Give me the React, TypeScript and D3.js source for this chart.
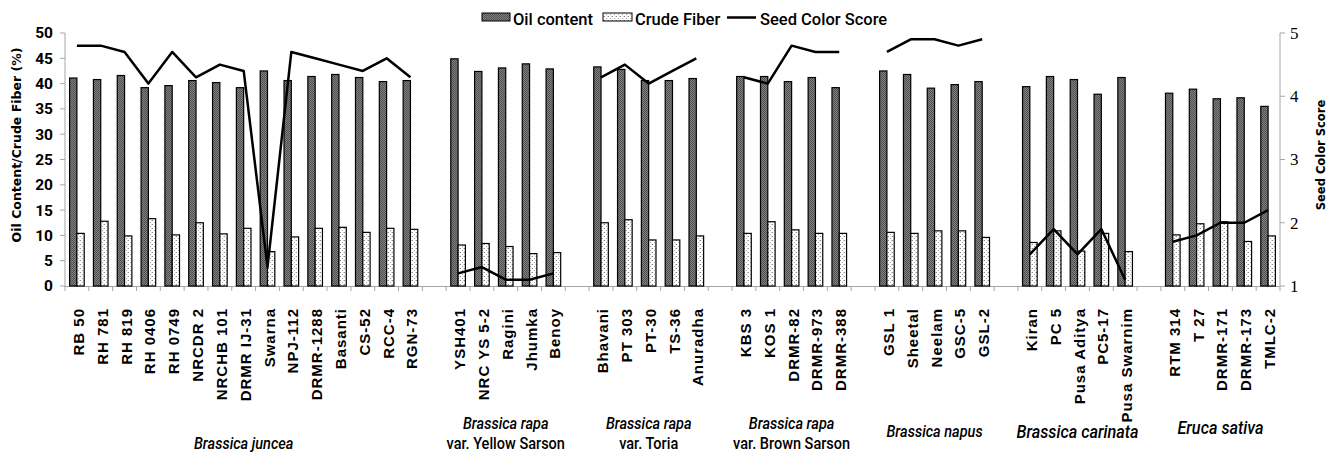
import React from "react";
import * as d3 from "d3";

const categories: string[] = [
  "RB 50", "RH 781", "RH 819", "RH 0406", "RH 0749", "NRCDR 2", "NRCHB 101", "DRMR IJ-31",
  "Swarna", "NPJ-112", "DRMR-1288", "Basanti", "CS-52", "RCC-4", "RGN-73", "",
  "YSH401", "NRC YS 5-2", "Ragini", "Jhumka", "Benoy", "",
  "Bhavani", "PT 303", "PT-30", "TS-36", "Anuradha", "",
  "KBS 3", "KOS 1", "DRMR-82", "DRMR-973", "DRMR-388", "",
  "GSL 1", "Sheetal", "Neelam", "GSC-5", "GSL-2", "",
  "Kiran", "PC 5", "Pusa Aditya", "PC5-17", "Pusa Swarnim", "",
  "RTM 314", "T 27", "DRMR-171", "DRMR-173", "TMLC-2",
];

const oilContent: (number | null)[] = [
  41.1, 40.8, 41.6, 39.2, 39.6, 40.6, 40.2, 39.2, 42.5, 40.6, 41.4, 41.8, 41.2, 40.4, 40.6, null,
  44.9, 42.4, 43.1, 43.9, 42.9, null,
  43.3, 42.8, 40.6, 40.6, 41.0, null,
  41.4, 41.4, 40.4, 41.2, 39.2, null,
  42.5, 41.8, 39.1, 39.8, 40.4, null,
  39.4, 41.4, 40.8, 37.9, 41.2, null,
  38.1, 38.9, 37.0, 37.2, 35.5,
];

const crudeFiber: (number | null)[] = [
  10.4, 12.8, 9.9, 13.3, 10.1, 12.5, 10.3, 11.4, 6.8, 9.7, 11.4, 11.6, 10.6, 11.4, 11.2, null,
  8.1, 8.4, 7.8, 6.4, 6.6, null,
  12.5, 13.1, 9.1, 9.1, 9.9, null,
  10.4, 12.7, 11.1, 10.4, 10.4, null,
  10.6, 10.4, 10.9, 10.9, 9.6, null,
  8.6, 10.9, 6.9, 10.4, 6.8, null,
  10.1, 12.3, 12.7, 8.8, 9.9,
];

const seedColorScore: (number | null)[] = [
  4.8, 4.8, 4.7, 4.2, 4.7, 4.3, 4.5, 4.4, 1.3, 4.7, 4.6, 4.5, 4.4, 4.6, 4.3, null,
  1.2, 1.3, 1.1, 1.1, 1.2, null,
  4.3, 4.5, 4.2, 4.4, 4.6, null,
  4.3, 4.2, 4.8, 4.7, 4.7, null,
  4.7, 4.9, 4.9, 4.8, 4.9, null,
  1.5, 1.9, 1.5, 1.9, 1.1, null,
  1.7, 1.8, 2.0, 2.0, 2.2,
];

const groupTitles: string[][] = [
  ["Brassica juncea"],
  ["Brassica rapa", "var. Yellow Sarson"],
  ["Brassica rapa", "var. Toria"],
  ["Brassica rapa", "var. Brown Sarson"],
  ["Brassica napus"],
  ["Brassica carinata"],
  ["Eruca sativa"],
];

const leftTicks = [0, 5, 10, 15, 20, 25, 30, 35, 40, 45, 50];
const rightTicks = [1, 2, 3, 4, 5];
const seriesNames = ["Oil content", "Crude Fiber", "Seed Color Score"];

const W = 1328;
const H = 454;
const X0 = 65;
const X1 = 1280;
const YB = 286;
const YT = 33;

const NARROW = "'Liberation Sans Narrow', 'Arial Narrow', 'Roboto', sans-serif";

// group-label styling (per group index)
const groupStyle = [
  { size: 16.5, ys: [449] },
  { size: 16.5, ys: [429, 449] },
  { size: 16.5, ys: [429, 449] },
  { size: 16.5, ys: [429, 449] },
  { size: 16.5, ys: [437] },
  { size: 18.5, ys: [438] },
  { size: 18.5, ys: [434] },
];

export default function App() {
  const idx = d3.range(categories.length);
  const x = d3.scaleBand<number>().domain(idx).range([X0, X1]).paddingInner(0).paddingOuter(0);
  const sub = d3
    .scaleBand<string>()
    .domain(["oil", "fiber"])
    .range([0, x.bandwidth()])
    .paddingInner(0)
    .paddingOuter(0.63);
  const yL = d3.scaleLinear().domain([0, 50]).range([YB, YT]);
  const yR = d3.scaleLinear().domain([1, 5]).range([YB, YT]);

  const line = d3
    .line<number>()
    .defined((i) => seedColorScore[i] != null)
    .x((i) => (x(i) as number) + x.bandwidth() / 2)
    .y((i) => yR(seedColorScore[i] as number));

  // derive groups from blank separators
  const groups: { start: number; end: number }[] = [];
  let s = 0;
  categories.forEach((c, i) => {
    if (c === "") {
      groups.push({ start: s, end: i - 1 });
      s = i + 1;
    }
  });
  groups.push({ start: s, end: categories.length - 1 });

  return (
    <div style={{ position: "fixed", left: 0, top: 0 }}>
      <svg width={W} height={H} style={{ display: "block", background: "#fff" }}>
        <defs>
          <pattern id="oilPat" width="2" height="2" patternUnits="userSpaceOnUse">
            <rect width="2" height="2" fill="#808080" />
            <rect width="1" height="1" fill="#505050" />
            <rect x="1" y="1" width="1" height="1" fill="#505050" />
          </pattern>
          <pattern id="fibPat" width="4" height="4" patternUnits="userSpaceOnUse">
            <rect width="4" height="4" fill="#fff" />
            <rect x="0" y="0" width="1" height="1" fill="#8a8a8a" />
            <rect x="2" y="2" width="1" height="1" fill="#a5a5a5" />
            <rect x="3" y="0" width="1" height="1" fill="#d0d0d0" />
          </pattern>
        </defs>

        {/* axes lines */}
        <line x1={X0} x2={X0} y1={YT} y2={YB} stroke="#a6a6a6" strokeWidth={1} />
        <line x1={X1} x2={X1} y1={YT} y2={YB} stroke="#a6a6a6" strokeWidth={1} />
        <line x1={X0} x2={X1} y1={YB + 0.5} y2={YB + 0.5} stroke="#a6a6a6" strokeWidth={1} />

        {leftTicks.map((t) => (
          <g key={"l" + t}>
            <line x1={X0 - 5} x2={X0} y1={yL(t)} y2={yL(t)} stroke="#a6a6a6" />
            <text
              x={53}
              y={yL(t)}
              dy="0.35em"
              textAnchor="end"
              fontFamily={NARROW}
              fontWeight="bold"
              fontSize={15.5}
              fill="#000"
            >
              {t}
            </text>
          </g>
        ))}
        {rightTicks.map((t) => (
          <g key={"r" + t}>
            <line x1={X1} x2={X1 + 5} y1={yR(t)} y2={yR(t)} stroke="#a6a6a6" />
            <text
              x={1290}
              y={yR(t)}
              dy="0.35em"
              textAnchor="start"
              fontFamily="'Liberation Serif', serif"
              fontSize={17}
              fill="#000"
            >
              {t}
            </text>
          </g>
        ))}
        {d3.range(categories.length + 1).map((i) => {
          const xx = i < categories.length ? (x(i) as number) : X1;
          return <line key={"xt" + i} x1={xx} x2={xx} y1={YB} y2={YB + 5} stroke="#a6a6a6" />;
        })}

        {/* bars */}
        {idx.map((i) =>
          oilContent[i] == null ? null : (
            <rect
              key={"o" + i}
              x={(x(i) as number) + (sub("oil") as number)}
              y={yL(oilContent[i] as number)}
              width={sub.bandwidth()}
              height={YB - yL(oilContent[i] as number)}
              fill="url(#oilPat)"
              stroke="#000"
              strokeWidth={1.2}
            />
          )
        )}
        {idx.map((i) =>
          crudeFiber[i] == null ? null : (
            <rect
              key={"f" + i}
              x={(x(i) as number) + (sub("fiber") as number)}
              y={yL(crudeFiber[i] as number)}
              width={sub.bandwidth()}
              height={YB - yL(crudeFiber[i] as number)}
              fill="url(#fibPat)"
              stroke="#000"
              strokeWidth={1.2}
            />
          )
        )}

        {/* line */}
        <path d={line(idx) || ""} fill="none" stroke="#000" strokeWidth={2.5} strokeLinejoin="round" />

        {/* category labels */}
        {idx.map((i) =>
          categories[i] === "" ? null : (
            <text
              key={"c" + i}
              transform={`translate(${(x(i) as number) + x.bandwidth() / 2 + 7},308) rotate(-90)`}
              textAnchor="end"
              fontFamily="'Liberation Sans', Arial, sans-serif"
              fontWeight="bold"
              fontSize={15}
              letterSpacing={1}
              fill="#000"
            >
              {categories[i]}
            </text>
          )
        )}

        {/* group labels */}
        {groups.map((g, gi) => {
          const cx = ((x(g.start) as number) + (x(g.end) as number) + x.bandwidth()) / 2;
          const st = groupStyle[gi];
          return groupTitles[gi].map((t, li) => (
            <text
              key={"g" + gi + "-" + li}
              transform={`translate(${cx},${st.ys[li]}) scale(0.88,1)`}
              textAnchor="middle"
              fontFamily={NARROW}
              fontStyle={li === 0 ? "italic" : "normal"}
              fontWeight={500}
              fontSize={st.size}
              fill="#000"
            >
              {t}
            </text>
          ));
        })}

        {/* axis titles */}
        <text
          transform="translate(21,145) rotate(-90)"
          textAnchor="middle"
          fontFamily="'DejaVu Sans', Verdana, sans-serif"
          fontWeight="bold"
          fontSize={12.5}
          fill="#000"
        >
          Oil Content/Crude Fiber (%)
        </text>
        <text
          transform="translate(1325,155) rotate(-90)"
          textAnchor="middle"
          fontFamily="'DejaVu Sans', Verdana, sans-serif"
          fontWeight="bold"
          fontSize={11.5}
          fill="#000"
        >
          Seed Color Score
        </text>

        {/* legend */}
        <rect x={482} y={13} width={28} height={8} fill="url(#oilPat)" stroke="#000" strokeWidth={1} />
        <text x={513} y={25} fontFamily={NARROW} fontWeight={500} fontSize={16.5} fill="#000">
          {seriesNames[0]}
        </text>
        <rect x={603} y={13} width={29} height={8} fill="url(#fibPat)" stroke="#000" strokeWidth={1} />
        <text x={635} y={25} fontFamily={NARROW} fontWeight={500} fontSize={16.5} fill="#000">
          {seriesNames[1]}
        </text>
        <line x1={727} x2={756} y1={17.5} y2={17.5} stroke="#000" strokeWidth={2.5} />
        <text x={760} y={25} fontFamily={NARROW} fontWeight={500} fontSize={16.5} fill="#000">
          {seriesNames[2]}
        </text>
      </svg>
    </div>
  );
}
